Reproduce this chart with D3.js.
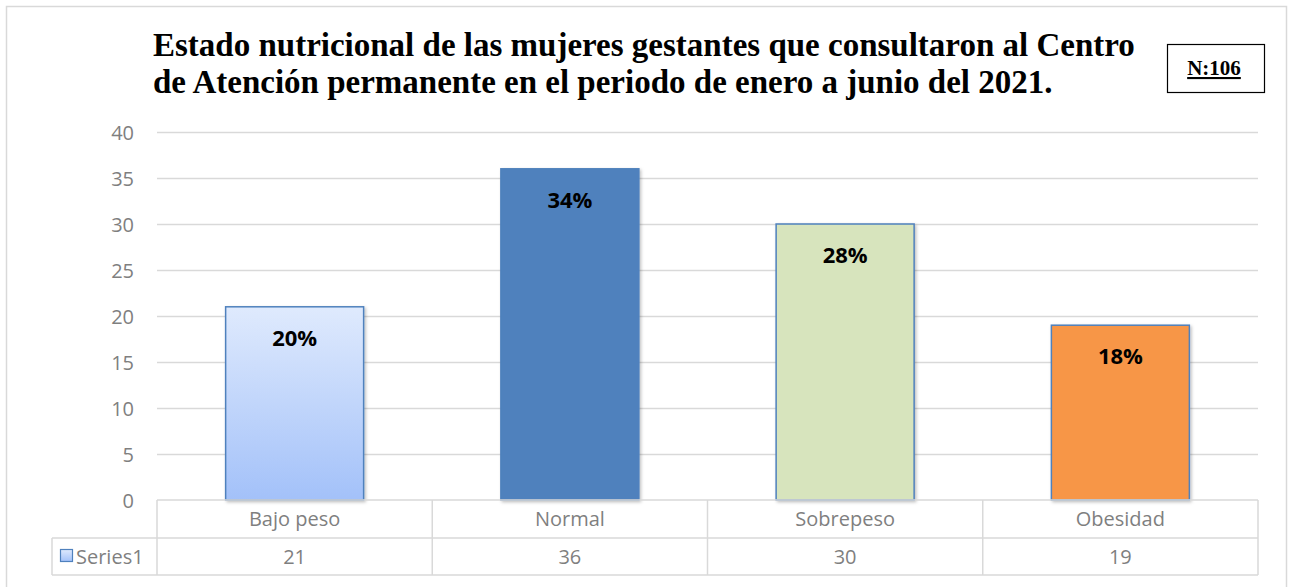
<!DOCTYPE html>
<html>
<head>
<meta charset="utf-8">
<script src="https://cdn.jsdelivr.net/npm/d3@7"></script>
<style>
  body { margin: 0; background: #fff; }
  svg { display: block; }
</style>
</head>
<body>
<svg id="chart" width="1294" height="587"></svg>
<script>
const categories = ["Bajo peso", "Normal", "Sobrepeso", "Obesidad"];
const values = [21, 36, 30, 19];
const percents = ["20%", "34%", "28%", "18%"];
const yTicks = [0, 5, 10, 15, 20, 25, 30, 35, 40];
const seriesName = "Series1";
const titleLines = [
  "Estado nutricional de las mujeres gestantes que consultaron al Centro",
  "de Atención permanente en el periodo de enero a junio del 2021."
];
const nLabel = "N:106";

const svg = d3.select("#chart");
const m = {left: 157, right: 1258, top: 132, bottom: 500};
const tf = "Open Sans, sans-serif";
const serif = "Liberation Serif, Times New Roman, serif";

// gradient for the first bar + soft shadow
const defs = svg.append("defs");
const lg = defs.append("linearGradient")
  .attr("id", "blueGrad").attr("x1", 0).attr("y1", 0).attr("x2", 0).attr("y2", 1);
lg.append("stop").attr("offset", "0%").attr("stop-color", "#dfeafd");
lg.append("stop").attr("offset", "100%").attr("stop-color", "#a3c1f9");
const sh = defs.append("filter").attr("id", "shadow")
  .attr("x", "-10%").attr("y", "-10%").attr("width", "130%").attr("height", "130%");
sh.append("feDropShadow").attr("dx", 1.5).attr("dy", 1.5).attr("stdDeviation", 1.5)
  .attr("flood-color", "#000").attr("flood-opacity", 0.25);

const fills = ["url(#blueGrad)", "#4f81bd", "#d7e4bd", "#f79646"];

// outer frame
svg.append("rect")
  .attr("x", 6.5).attr("y", 6.5).attr("width", 1280).attr("height", 590)
  .attr("fill", "#fff").attr("stroke", "#d9d9d9").attr("stroke-width", 1.5);

const x = d3.scaleBand().domain(categories).range([m.left, m.right]).padding(0);
const y = d3.scaleLinear().domain([0, 40]).range([m.bottom, m.top]);

// gridlines
svg.append("g").selectAll("line").data(yTicks.filter(t => t > 0)).join("line")
  .attr("x1", m.left).attr("x2", m.right)
  .attr("y1", d => y(d) + 0.5).attr("y2", d => y(d) + 0.5)
  .attr("stroke", "#d9d9d9").attr("stroke-width", 1.5);

// y axis labels
const yAxis = d3.axisLeft(y).tickValues(yTicks).tickSize(0).tickPadding(0);
const ya = svg.append("g").attr("transform", "translate(134,0)").call(yAxis);
ya.select(".domain").remove();
ya.selectAll("text")
  .attr("font-family", tf).attr("font-size", 20)
  .attr("fill", "#7f7f7f").attr("dy", "0.35em");

// bars
const bw = 138;
svg.append("g").selectAll("rect").data(values).join("rect")
  .attr("x", (d, i) => x(categories[i]) + x.bandwidth() / 2 - bw / 2)
  .attr("y", d => y(d))
  .attr("width", bw)
  .attr("height", d => y(0) - y(d))
  .attr("fill", (d, i) => fills[i])
  .attr("stroke", "#4f81bd").attr("stroke-width", 1.5)
  .attr("filter", "url(#shadow)");

// percent labels
svg.append("g").selectAll("text").data(values).join("text")
  .attr("x", (d, i) => x(categories[i]) + x.bandwidth() / 2)
  .attr("y", d => y(d) + 39)
  .attr("text-anchor", "middle")
  .attr("font-family", tf).attr("font-weight", "bold")
  .attr("font-size", 22).attr("fill", "#000")
  .text((d, i) => percents[i]);

// data table
const rowTop = 500, rowMid = 538, rowBot = 575, legLeft = 52;
const tbl = svg.append("g").attr("stroke", "#d9d9d9").attr("stroke-width", 1.5);
tbl.append("line").attr("x1", m.left).attr("x2", m.right).attr("y1", rowTop).attr("y2", rowTop);
tbl.append("line").attr("x1", legLeft).attr("x2", m.right).attr("y1", rowMid).attr("y2", rowMid);
tbl.append("line").attr("x1", legLeft).attr("x2", m.right).attr("y1", rowBot).attr("y2", rowBot);
tbl.append("line").attr("x1", legLeft).attr("x2", legLeft).attr("y1", rowMid).attr("y2", rowBot);
tbl.selectAll("line.v").data(categories.map(c => x(c)).concat([m.right])).join("line")
  .attr("class", "v")
  .attr("x1", d => d).attr("x2", d => d).attr("y1", rowTop).attr("y2", rowBot);

svg.append("g").selectAll("text").data(categories).join("text")
  .attr("x", d => x(d) + x.bandwidth() / 2).attr("y", 526)
  .attr("text-anchor", "middle").attr("font-family", tf).attr("font-size", 20)
  .attr("fill", "#7f7f7f").text(d => d);
svg.append("g").selectAll("text").data(values).join("text")
  .attr("x", (d, i) => x(categories[i]) + x.bandwidth() / 2).attr("y", 564)
  .attr("text-anchor", "middle").attr("font-family", tf).attr("font-size", 20)
  .attr("fill", "#7f7f7f").text(d => d);

// legend key
svg.append("rect").attr("x", 60.5).attr("y", 549.5).attr("width", 12).attr("height", 12)
  .attr("fill", "url(#blueGrad)").attr("stroke", "#4f81bd").attr("stroke-width", 1.2);
svg.append("text").attr("x", 76).attr("y", 564)
  .attr("font-family", tf).attr("font-size", 20).attr("fill", "#7f7f7f").text(seriesName);

// title
svg.append("g").selectAll("text").data(titleLines).join("text")
  .attr("x", 153).attr("y", (d, i) => 56 + i * 37)
  .attr("font-family", serif)
  .attr("font-weight", "bold").attr("font-size", 33).attr("fill", "#000")
  .text(d => d);

// N box
svg.append("rect").attr("x", 1167.5).attr("y", 44.5).attr("width", 97).attr("height", 48)
  .attr("fill", "#fff").attr("stroke", "#000").attr("stroke-width", 1.2);
svg.append("text").attr("x", 1214).attr("y", 75)
  .attr("text-anchor", "middle")
  .attr("font-family", serif)
  .attr("font-weight", "bold").attr("font-size", 21)
  .attr("text-decoration", "underline").text(nLabel);
</script>
</body>
</html>
